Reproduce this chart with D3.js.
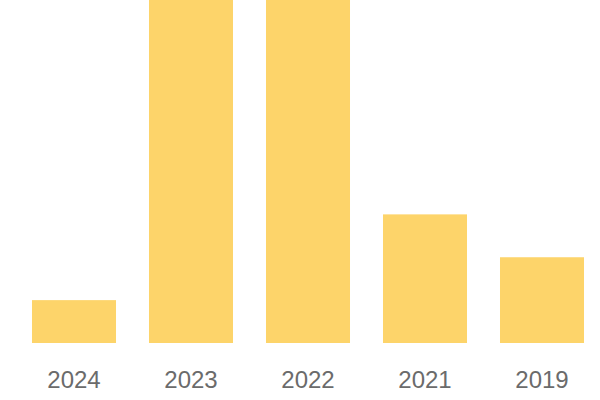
<!DOCTYPE html>
<html>
<head>
<meta charset="utf-8">
<script src="https://cdn.jsdelivr.net/npm/d3@7"></script>
<style>
  body { margin: 0; background: #fff; }
  svg { display: block; }
</style>
</head>
<body>
<svg width="600" height="400"></svg>
<script>
// years shown, left to right
var years = ["2024", "2023", "2022", "2021", "2019"];
// bar values (2023 and 2022 run past the top of the plot)
var counts = [1, 11, 9, 3, 2];

var svg = d3.select("svg");

var xScale = d3.scaleBand().domain(years).range([15.5, 600.5])
    .paddingInner(0.282).paddingOuter(0.141);
var yScale = d3.scaleLinear().domain([0, 8]).range([343, 0]).clamp(true);

var data = years.map(function (y, i) { return { year: y, value: counts[i] }; });

svg.append("g").selectAll("rect").data(data).enter().append("rect")
    .attr("x", function (d) { return xScale(d.year); })
    .attr("y", function (d) { return yScale(d.value); })
    .attr("width", xScale.bandwidth())
    .attr("height", function (d) { return yScale(0) - yScale(d.value); })
    .attr("fill", "#fdd46a");

var xAxis = d3.axisBottom(xScale).tickSize(0).tickPadding(0);
var xAxisG = svg.append("g").attr("id", "xAxisG")
    .attr("transform", "translate(0,388)").call(xAxis);
xAxisG.select(".domain").remove();
xAxisG.selectAll("text")
    .attr("dy", 0)
    .style("font-family", "'Liberation Sans', Arial, sans-serif")
    .style("font-size", "24px")
    .style("fill", "#6b6b6b");
</script>
</body>
</html>
